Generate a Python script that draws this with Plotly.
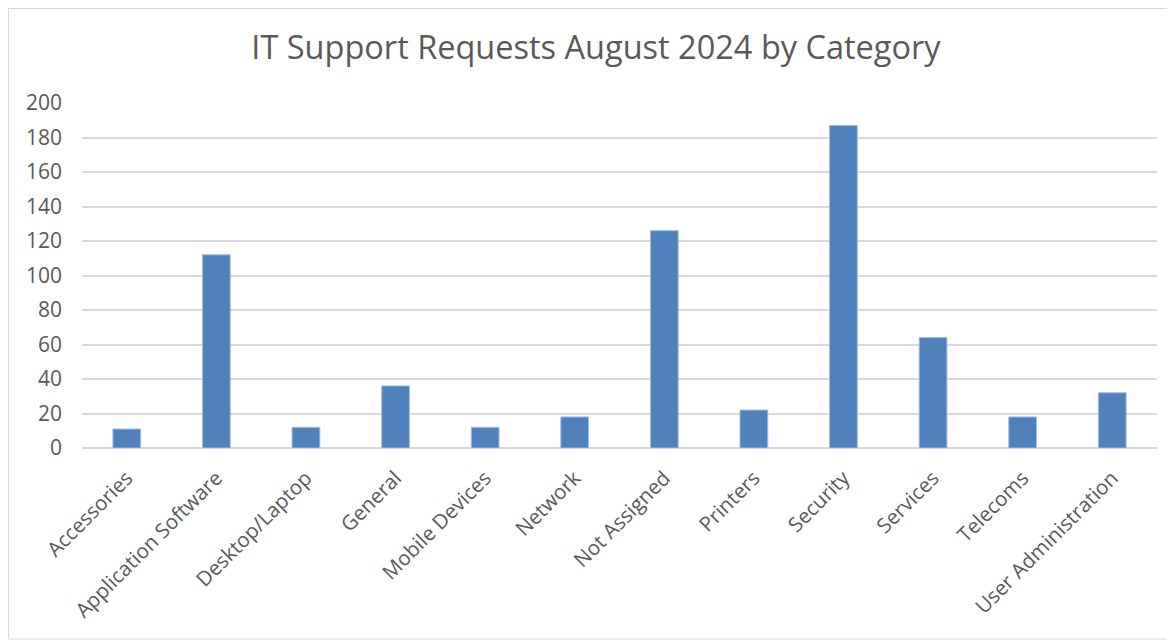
import plotly.graph_objects as go

categories = ["Accessories", "Application Software", "Desktop/Laptop", "General",
              "Mobile Devices", "Network", "Not Assigned", "Printers", "Security",
              "Services", "Telecoms", "User Administration"]
requests = [11, 112, 12, 36, 12, 18, 126, 22, 187, 64, 18, 32]
y_ticks = [0, 20, 40, 60, 80, 100, 120, 140, 160, 180, 200]

# page has an 8px body offset; figure coords are screen coords minus 8
W, H = 1167, 635
L, R, T, B = 74, 18, 95, 195
pw, ph = W - L - R, H - T - B

fig = go.Figure(go.Bar(
    x=categories, y=requests,
    marker=dict(color="#4f81bd", line=dict(color="#a3bde0", width=1)),
))

def px2x(p):
    return (p - L) / pw

def px2y(p):
    return 1 - (p - T) / ph

fig.update_layout(
    width=W, height=H,
    margin=dict(l=L, r=R, t=T, b=B),
    paper_bgcolor="white", plot_bgcolor="white",
    bargap=0.69,
    showlegend=False,
    title=dict(text="IT Support Requests August 2024 by Category",
               x=(588 - L) / pw, xref="paper", xanchor="center",
               y=1 - 40 / H, yanchor="middle",
               font=dict(family="Open Sans", size=32.5, color="#595959")),
    font=dict(family="Open Sans", color="#595959"),
    xaxis=dict(showgrid=False, showline=False, ticks="outside", ticklen=9,
               tickcolor="rgba(0,0,0,0)",
               tickangle=-45, tickfont=dict(size=20.5, color="#595959")),
    yaxis=dict(range=[0, 200], tickvals=y_ticks, showgrid=True,
               gridcolor="#d9d9d9", gridwidth=1.5, zeroline=True,
               zerolinecolor="#d9d9d9", zerolinewidth=1.5,
               showline=False, ticks="", ticklabelstandoff=19,
               tickfont=dict(size=21, color="#595959")),
    shapes=[dict(type="rect", xref="paper", yref="paper",
                 x0=px2x(0.5), x1=px2x(1160), y0=px2y(0.5), y1=px2y(631),
                 line=dict(color="#d9d9d9", width=1.2), fillcolor="rgba(0,0,0,0)",
                 layer="below")],
)

fig.write_html("out.html")
